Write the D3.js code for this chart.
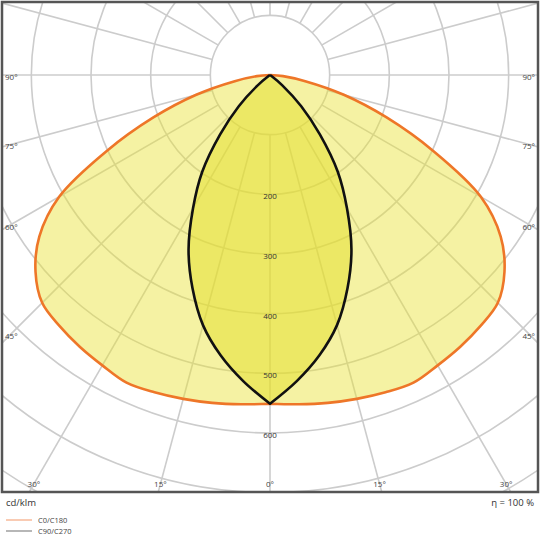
<!DOCTYPE html>
<html>
<head>
<meta charset="utf-8">
<script src="https://cdn.jsdelivr.net/npm/d3@7"></script>
<style>
  body { margin: 0; background: #fff; }
  svg { display: block; font-family: "Open Sans", "DejaVu Sans", sans-serif; }
</style>
</head>
<body>
<svg width="540" height="540"></svg>
<script>
// gamma angles (deg from nadir) and intensities in cd/klm
var gammaAngles = [0, 5, 10, 15, 20, 25, 30, 35, 40, 45, 50, 55, 60, 65, 70, 75, 80, 85, 90];
var c0c180  = [551, 554, 558, 562, 566, 569, 562, 556, 549, 540, 513, 472, 408, 303, 208, 128, 60, 22, 0];
var c90c270 = [551, 515, 477, 434, 380, 323, 258, 198, 130, 74, 27, 3, 0, 0, 0, 0, 0, 0, 0];

var ringValues = [100, 200, 300, 400, 500, 600, 700, 800, 900];
var ringLabels = [200, 300, 400, 500, 600];
var sideAngleLabels = [90, 75, 60, 45];
var bottomAngleLabels = [30, 15, 0, 15, 30];
var legendNames = ["C0/C180", "C90/C270"];

var svg = d3.select("svg"),
    cx = 270, cy = 75,
    frame = {x: 2, y: 2, w: 536, h: 490};

var r = d3.scaleLinear().domain([0, 600]).range([0, 358]);
var rad = function(d) { return d * Math.PI / 180; };

svg.append("clipPath").attr("id", "clip")
  .append("rect")
  .attr("x", frame.x).attr("y", frame.y)
  .attr("width", frame.w).attr("height", frame.h);

var plot = svg.append("g").attr("clip-path", "url(#clip)");
var g = plot.append("g").attr("transform", "translate(" + cx + "," + cy + ")");

// grid rings
g.selectAll("circle.ring")
  .data(ringValues)
  .enter().append("circle")
  .attr("class", "ring")
  .attr("r", function(d) { return r(d); })
  .attr("fill", "none")
  .attr("stroke", "#cccccc")
  .attr("stroke-width", 1.6);

// spokes every 15 deg, starting at the first ring
g.selectAll("line.spoke")
  .data(d3.range(0, 360, 15))
  .enter().append("line")
  .attr("class", "spoke")
  .attr("x1", function(d) { return r(100) * Math.sin(rad(d)); })
  .attr("y1", function(d) { return r(100) * Math.cos(rad(d)); })
  .attr("x2", function(d) { return r(1000) * Math.sin(rad(d)); })
  .attr("y2", function(d) { return r(1000) * Math.cos(rad(d)); })
  .attr("stroke", "#cccccc")
  .attr("stroke-width", 1.6);

var line = d3.lineRadial()
  .angle(function(d) { return d[0]; })
  .radius(function(d) { return d[1]; })
  .curve(d3.curveCatmullRom.alpha(0.5));

// each half is smoothed on its own so the tips at 0 and 90 stay pointed
function curvePath(vals) {
  var left = [], right = [];
  for (var i = gammaAngles.length - 1; i >= 0; i--)
    left.push([Math.PI + rad(gammaAngles[i]), r(vals[i])]);
  for (var j = 0; j < gammaAngles.length; j++)
    right.push([Math.PI - rad(gammaAngles[j]), r(vals[j])]);
  return line(left) + line(right).replace(/^M/, "L");
}

g.append("path")
  .attr("d", curvePath(c0c180))
  .attr("fill", "rgb(232,226,50)")
  .attr("fill-opacity", 0.45);

g.append("path")
  .attr("d", curvePath(c90c270))
  .attr("fill", "rgb(228,222,40)")
  .attr("fill-opacity", 0.5);

g.append("path")
  .attr("d", curvePath(c0c180))
  .attr("fill", "none")
  .attr("stroke", "#ee7628")
  .attr("stroke-width", 2.6)
  .attr("stroke-linejoin", "round");

g.append("path")
  .attr("d", curvePath(c90c270))
  .attr("fill", "none")
  .attr("stroke", "#111")
  .attr("stroke-width", 2.6)
  .attr("stroke-linejoin", "round");

// ring value labels
g.selectAll("text.rl")
  .data(ringLabels)
  .enter().append("text")
  .attr("x", 0)
  .attr("y", function(d) { return r(d) + 5; })
  .attr("text-anchor", "middle")
  .attr("font-size", 8)
  .attr("fill", "#333")
  .text(function(d) { return d; });

// angle labels on the sides
var sideX = 11;
sideAngleLabels.forEach(function(a) {
  var dy = a === 90 ? 0 : (cx - sideX) / Math.tan(rad(a));
  [-1, 1].forEach(function(s) {
    plot.append("text")
      .attr("x", s < 0 ? 5 : 535)
      .attr("y", cy + dy + 5)
      .attr("text-anchor", s < 0 ? "start" : "end")
      .attr("font-size", 8)
      .attr("fill", "#444")
      .text(a + "°");
  });
});

// angle labels along the bottom
var bottomY = 484;
bottomAngleLabels.forEach(function(a, i) {
  var s = i < 2 ? -1 : 1;
  plot.append("text")
    .attr("x", cx + s * (bottomY - cy) * Math.tan(rad(a)))
    .attr("y", bottomY + 3)
    .attr("text-anchor", "middle")
    .attr("font-size", 8)
    .attr("fill", "#444")
    .text(a + "°");
});

// frame
svg.append("rect")
  .attr("x", frame.x).attr("y", frame.y)
  .attr("width", frame.w).attr("height", frame.h)
  .attr("fill", "none")
  .attr("stroke", "#555")
  .attr("stroke-width", 2.5);

svg.append("text")
  .attr("x", 6).attr("y", 506)
  .attr("font-size", 9.5)
  .attr("fill", "#333")
  .text("cd/klm");

svg.append("text")
  .attr("x", 534).attr("y", 506)
  .attr("text-anchor", "end")
  .attr("font-size", 9.5)
  .attr("fill", "#333")
  .text("η = 100 %");

// legend
var legendColors = ["#f5a880", "#888888"];
var leg = svg.selectAll("g.leg")
  .data(legendNames)
  .enter().append("g")
  .attr("class", "leg")
  .attr("transform", function(d, i) { return "translate(6," + (520 + i * 11) + ")"; });

leg.append("line")
  .attr("x1", 0).attr("x2", 26)
  .attr("stroke", function(d, i) { return legendColors[i]; })
  .attr("stroke-width", 1.2);

leg.append("text")
  .attr("x", 32).attr("y", 3)
  .attr("font-size", 7.5)
  .attr("fill", "#444")
  .text(function(d) { return d; });
</script>
</body>
</html>
